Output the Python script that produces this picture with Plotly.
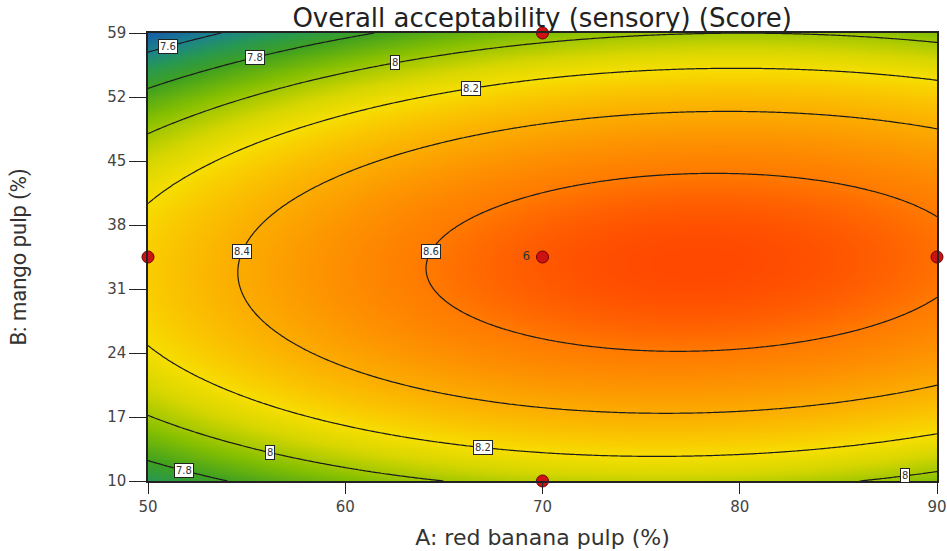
import numpy as np
import plotly.graph_objects as go

# Factor ranges (actual units)
a_low, a_high = 50, 90          # A: red banana pulp (%)
b_low, b_high = 10, 59          # B: mango pulp (%)

# Fitted quadratic model in coded units: intercept, A, B, AB, A^2, B^2
coef_names = ["b0", "A", "B", "AB", "A2", "B2"]
coef_vals = [8.671, 0.179, -0.053, 0.053, -0.228, -0.678]

# Design points and replicate counts
pts_a = [50, 90, 70, 70, 70]
pts_b = [34.5, 34.5, 10, 59, 34.5]
pts_reps = [1, 1, 1, 1, 6]

# Contour levels and tick labels
levels = [7.6, 7.8, 8.0, 8.2, 8.4, 8.6]
x_ticks = [50, 60, 70, 80, 90]
y_ticks = [10, 17, 24, 31, 38, 45, 52, 59]

# Where the level labels sit: (level, fixed value, branch)
label_along_x = [(7.6, 51.0, "top"), (7.8, 55.4, "top"), (7.8, 51.8, "bottom"),
                 (8.0, 62.5, "top"), (8.0, 56.2, "bottom"), (8.0, 88.4, "bottom"),
                 (8.2, 66.4, "top"), (8.2, 67.0, "bottom")]
label_along_y = [(8.4, 35.1), (8.6, 35.1)]

c = dict(zip(coef_names, coef_vals))
a_mid, a_half = (a_low + a_high) / 2, (a_high - a_low) / 2
b_mid, b_half = (b_low + b_high) / 2, (b_high - b_low) / 2


def model(x, y):
    A = (x - a_mid) / a_half
    B = (y - b_mid) / b_half
    return (c["b0"] + c["A"] * A + c["B"] * B + c["AB"] * A * B
            + c["A2"] * A ** 2 + c["B2"] * B ** 2)


def y_on_level(level, x, branch):
    A = (x - a_mid) / a_half
    r = np.roots([c["B2"], c["B"] + c["AB"] * A,
                  c["b0"] + c["A"] * A + c["A2"] * A ** 2 - level])
    r = np.real(r)
    B = r.max() if branch == "top" else r.min()
    return b_mid + B * b_half


def x_on_level(level, y):
    B = (y - b_mid) / b_half
    r = np.roots([c["A2"], c["A"] + c["AB"] * B,
                  c["b0"] + c["B"] * B + c["B2"] * B ** 2 - level])
    A = np.real(r).min()
    return a_mid + A * a_half


xs = np.linspace(a_low, a_high, 241)
ys = np.linspace(b_low, b_high, 241)
X, Y = np.meshgrid(xs, ys)
Z = model(X, Y)
zmin, zmax = float(Z.min()), float(Z.max())

# Colour ramp keyed to response values
ramp = [(zmin, "rgb(22,92,168)"), (7.6, "rgb(28,132,138)"), (7.7, "rgb(40,152,80)"),
        (7.8, "rgb(62,160,32)"), (7.95, "rgb(135,192,0)"), (8.1, "rgb(215,214,0)"),
        (8.2, "rgb(246,222,0)"), (8.3, "rgb(250,196,0)"), (8.45, "rgb(252,160,0)"),
        (8.6, "rgb(255,122,0)"), (zmax, "rgb(255,72,0)")]
colorscale = [[(v - zmin) / (zmax - zmin), col] for v, col in ramp]

fig = go.Figure()
fig.add_trace(go.Contour(
    x=xs, y=ys, z=Z, colorscale=colorscale, zmin=zmin, zmax=zmax,
    showscale=False, hoverinfo="skip",
    contours=dict(start=levels[0], end=levels[-1], size=0.2, coloring="heatmap",
                  showlabels=False),
    line=dict(color="#1c1c1c", width=1.2),
))

fig.add_trace(go.Scatter(
    x=pts_a, y=pts_b, mode="markers+text",
    text=[str(n) + " " if n > 1 else "" for n in pts_reps],
    textposition="middle left",
    textfont=dict(family="DejaVu Sans", size=12, color="#333333"),
    marker=dict(size=12, color="rgb(204,18,18)", line=dict(color="rgb(110,0,0)", width=1)),
    cliponaxis=False, hoverinfo="skip", showlegend=False,
))

box = dict(showarrow=False, bgcolor="white", bordercolor="#222222", borderwidth=1,
           borderpad=1, font=dict(family="DejaVu Sans", size=10, color="#333333"))


def fmt(v):
    return f"{v:g}"


for lv, x, br in label_along_x:
    fig.add_annotation(x=x, y=y_on_level(lv, x, br), text=fmt(lv), **box)
for lv, y in label_along_y:
    fig.add_annotation(x=x_on_level(lv, y), y=y, text=fmt(lv), **box)

axis_font = dict(family="DejaVu Sans", size=15, color="#444444")
fig.update_layout(
    width=947, height=551,
    margin=dict(l=148, r=10, t=33, b=70, autoexpand=False),
    paper_bgcolor="white", plot_bgcolor="white",
    title=dict(text="Overall acceptability (sensory) (Score)", x=0.5725, xanchor="center",
               y=0.967, yanchor="middle",
               font=dict(family="DejaVu Sans", size=26, color="#222222")),
    showlegend=False,
)
fig.update_xaxes(
    range=[a_low, a_high], tickvals=x_ticks, ticks="outside", ticklen=11,
    tickcolor="#222222", linecolor="#222222", linewidth=1.5, mirror=True,
    showgrid=False, zeroline=False, tickfont=axis_font, automargin=False,
    title=dict(text="A: red banana pulp (%)", standoff=15,
               font=dict(family="DejaVu Sans", size=22, color="#333333")),
)
fig.update_yaxes(
    range=[b_low, b_high], tickvals=y_ticks, ticks="outside", ticklen=17,
    tickcolor="#222222", linecolor="#222222", linewidth=1.5, mirror=True,
    showgrid=False, zeroline=False, tickfont=axis_font, automargin=False,
    title=dict(text="B: mango pulp (%)", standoff=74,
               font=dict(family="Roboto", size=22, color="#333333")),
)

fig.write_html("out.html")
